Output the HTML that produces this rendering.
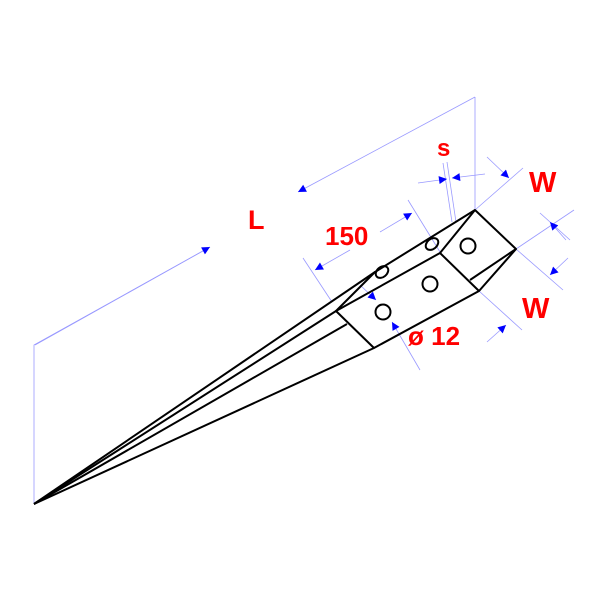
<!DOCTYPE html>
<html><head><meta charset="utf-8"><style>body{margin:0;background:#fff}svg{display:block}</style></head>
<body>
<svg width="600" height="600" viewBox="0 0 600 600" xmlns="http://www.w3.org/2000/svg">
<defs>
<marker id="a" viewBox="0 0 10 10" refX="10" refY="5" markerWidth="13" markerHeight="8" orient="auto-start-reverse" markerUnits="userSpaceOnUse"><path d="M0,0L10,5L0,10z" fill="#00f"/></marker>
</defs>
<g stroke="#99f" stroke-width="0.8" fill="none">
<polyline points="34,504 34,345 210,247"/>
<line x1="210" y1="247" x2="35" y2="345" marker-start="url(#a)"/>
<line x1="298" y1="192" x2="475" y2="97" marker-start="url(#a)"/>
<line x1="475" y1="97" x2="475" y2="210"/>
<line x1="303" y1="258" x2="332" y2="302"/>
<line x1="408" y1="200" x2="440" y2="252"/>
<line x1="315" y1="270" x2="350" y2="250" marker-start="url(#a)"/>
<line x1="412" y1="213" x2="380" y2="232" marker-start="url(#a)"/>
<line x1="447" y1="162" x2="456" y2="222"/>
<line x1="443" y1="163" x2="452" y2="222"/>
<line x1="418" y1="183" x2="447" y2="179" marker-end="url(#a)"/>
<line x1="485" y1="174" x2="452" y2="178" marker-end="url(#a)"/>
<line x1="475" y1="210" x2="523" y2="168"/>
<line x1="487" y1="157" x2="509" y2="178" marker-end="url(#a)"/>
<line x1="516" y1="249" x2="574" y2="210"/>
<line x1="516" y1="249" x2="563" y2="290"/>
<line x1="540" y1="213" x2="570" y2="240"/>
<line x1="568" y1="258" x2="550" y2="275" marker-end="url(#a)"/>
<line x1="566" y1="240" x2="550" y2="222" marker-end="url(#a)"/>
<line x1="479" y1="291" x2="522" y2="330"/>
<line x1="487" y1="342" x2="506" y2="325" marker-end="url(#a)"/>
<line x1="360" y1="285" x2="376" y2="300" marker-end="url(#a)"/>
<line x1="420" y1="370" x2="392" y2="322" marker-end="url(#a)"/>
</g>
<g stroke="#000" stroke-width="2" fill="none" stroke-linejoin="round">
<polygon points="475,210 516,249 479,291 374,348 336,311 440,253"/>
<line x1="440" y1="253" x2="479" y2="291"/>
<polyline points="475,210 375,272 336,311"/>
<line x1="516" y1="249" x2="470" y2="280"/>
<line x1="34" y1="504" x2="375" y2="272"/>
<line x1="34" y1="504" x2="336" y2="311"/>
<line x1="34" y1="504" x2="347" y2="324"/>
<line x1="34" y1="504" x2="374" y2="348"/>
<circle cx="468" cy="246" r="7.5"/>
<circle cx="430" cy="284" r="7.5"/>
<circle cx="383" cy="312" r="7.5"/>
<ellipse cx="432" cy="244" rx="5" ry="7" transform="rotate(50 432 244)"/>
<ellipse cx="382" cy="272" rx="5" ry="7" transform="rotate(50 382 272)"/>
</g>
<g fill="#f00" font-family="Liberation Sans, sans-serif" font-weight="bold">
<text x="437" y="156" font-size="24">s</text>
<text x="529" y="192" font-size="29">W</text>
<text x="522" y="318" font-size="29">W</text>
<text x="248" y="229" font-size="27">L</text>
<text x="325" y="245" font-size="26">150</text>
<text x="408" y="345" font-size="26">ø 12</text>
</g>
</svg>
</body></html>
